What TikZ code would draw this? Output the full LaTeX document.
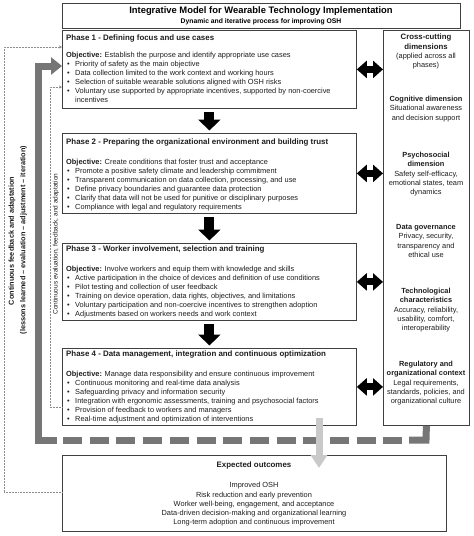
\documentclass[tikz,border=0pt]{standalone}
\usepackage{fontspec}
\setmainfont{Liberation Sans}
\usetikzlibrary{arrows.meta}
\definecolor{txt}{HTML}{1E1E1E}
\definecolor{bord}{HTML}{404040}
\definecolor{loopg}{HTML}{767676}
\definecolor{lightg}{HTML}{C9C9C9}
\definecolor{dotg}{HTML}{8C8C8C}
\newcommand{\bul}{\hspace*{1pt}\makebox[8pt][l]{\textbullet}}
\newcommand{\phhead}[1]{{\fontsize{7.9}{9}\selectfont\bfseries #1}}
\begin{document}
\begin{tikzpicture}[x=1pt,y=-1pt,
  box/.style={draw=bord, line width=0.8pt, fill=white, anchor=north west, inner sep=0pt},
  body/.style={anchor=base west, inner sep=0pt, text=txt, font=\fontsize{7.4}{9}\selectfont},
  side/.style={anchor=base, inner sep=0pt, text=txt, font=\fontsize{7.4}{9.2}\selectfont},
  blk/.style={line width=10pt, -{Triangle[width=22pt,length=11pt]}, black},
  dbl/.style={line width=7pt, {Triangle[width=17pt,length=10pt]}-{Triangle[width=17pt,length=10pt]}, black},
  fb/.style={draw=dotg, line width=0.5pt, densely dotted, -{Stealth[length=3pt,width=3pt]}},
  gl/.style={draw=loopg, line width=7pt, line join=miter},
  sidelabel/.style={rotate=90, inner sep=0pt, text=txt, font=\fontsize{7.3}{9}\selectfont\bfseries},
]
\useasboundingbox (0,0) rectangle (474,536);
\fill[white] (0,0) rectangle (474,536);

% feedback dotted loops
\coordinate (o1) at (4,492);
\coordinate (o2) at (4,47);
\coordinate (i1) at (50,407);
\coordinate (i2) at (50,87);

% title
\node[box, minimum width=398pt, minimum height=25pt] (title) at (62,3) {};
\node[anchor=base, inner sep=0pt, text=black, font=\fontsize{9.4}{11}\selectfont\bfseries] (tt) at (261,13.4) {Integrative Model for Wearable Technology Implementation};
\node[anchor=base, inner sep=0pt, text=black, font=\fontsize{6.8}{8}\selectfont\bfseries] (ts) at (261,23.4) {Dynamic and iterative process for improving OSH};

% phases
\node[box, minimum width=294pt, minimum height=78pt] (p1) at (62,30) {};
\node[box, minimum width=294pt, minimum height=80pt] (p2) at (62,133) {};
\node[box, minimum width=294pt, minimum height=77pt] (p3) at (62,243) {};
\node[box, minimum width=294pt, minimum height=77pt] (p4) at (62,348) {};

% outcomes box
\node[box, minimum width=384pt, minimum height=76pt] (out) at (62,455) {};

\draw[fb] (o1 -| out.west) -- (o1) -- (o2) -- (o2 -| p1.west);
\draw[fb] (i1 -| p4.west) -- (i1) -- (i2) -- (i2 -| p1.west);

\node[body] (t1) at (66,40.8) {\parbox[t]{290pt}{\raggedright
\phhead{Phase 1 - Defining focus and use cases}\\[8pt]
\textbf{Objective:} Establish the purpose and identify appropriate use cases\\
\bul Priority of safety as the main objective\\
\bul Data collection limited to the work context and working hours\\
\bul Selection of suitable wearable solutions aligned with OSH risks\\
\bul Voluntary use supported by appropriate incentives, supported by non-coercive\\
\hspace*{9pt}incentives}};

\node[body] (t2) at (66,144.8) {\parbox[t]{290pt}{\raggedright
\phhead{Phase 2 - Preparing the organizational environment and building trust}\\[11pt]
\textbf{Objective:} Create conditions that foster trust and acceptance\\
\bul Promote a positive safety climate and leadership commitment\\
\bul Transparent communication on data collection, processing, and use\\
\bul Define privacy boundaries and guarantee data protection\\
\bul Clarify that data will not be used for punitive or disciplinary purposes\\
\bul Compliance with legal and regulatory requirements}};

\node[body] (t3) at (66,251.8) {\parbox[t]{290pt}{\raggedright
\phhead{Phase 3 - Worker involvement, selection and training}\\[11pt]
\textbf{Objective:} Involve workers and equip them with knowledge and skills\\
\bul Active participation in the choice of devices and definition of use conditions\\
\bul Pilot testing and collection of user feedback\\
\bul Training on device operation, data rights, objectives, and limitations\\
\bul Voluntary participation and non-coercive incentives to strengthen adoption\\
\bul Adjustments based on workers needs and work context}};

\node[body] (t4) at (66,356.8) {\parbox[t]{290pt}{\raggedright
\phhead{Phase 4 - Data management, integration and continuous optimization}\\[11pt]
\textbf{Objective:} Manage data responsibility and ensure continuous improvement\\
\bul Continuous monitoring and real-time data analysis\\
\bul Safeguarding privacy and information security\\
\bul Integration with ergonomic assessments, training and psychosocial factors\\
\bul Provision of feedback to workers and managers\\
\bul Real-time adjustment and optimization of interventions}};

% cross-cutting box
\node[box, minimum width=86pt, minimum height=395pt] (cc) at (383,30) {};
\node[side] (c1) at (426,39.8) {\parbox[t]{86pt}{\centering
{\fontsize{7.8}{9.2}\selectfont\bfseries Cross-cutting\\ dimensions}\\
(applied across all\\ phases)}};
\node[side] (c2) at (426,101.6) {\parbox[t]{86pt}{\centering
\textbf{Cognitive dimension}\\ Situational awareness\\ and decision support}};
\node[side] (c3) at (426,157.6) {\parbox[t]{86pt}{\centering
\textbf{Psychosocial}\\ \textbf{dimension}\\ Safety self-efficacy,\\ emotional states, team\\ dynamics}};
\node[side] (c4) at (426,229.6) {\parbox[t]{86pt}{\centering
\textbf{Data governance}\\ Privacy, security,\\ transparency and\\ ethical use}};
\node[side] (c5) at (426,293.6) {\parbox[t]{86pt}{\centering
\textbf{Technological}\\ \textbf{characteristics}\\ Accuracy, reliability,\\ usability, comfort,\\ interoperability}};
\node[side] (c6) at (426,366.6) {\parbox[t]{86pt}{\centering
\textbf{Regulatory and}\\ \textbf{organizational context}\\ Legal requirements,\\ standards, policies, and\\ organizational culture}};

% outcomes text
\node[side] (ot) at (254,467.8) {\parbox[t]{380pt}{\centering
{\fontsize{7.9}{9.2}\selectfont\bfseries Expected outcomes}\\[10.8pt]
Improved OSH\\
Risk reduction and early prevention\\
Worker well-being, engagement, and acceptance\\
Data-driven decision-making and organizational learning\\
Long-term adoption and continuous improvement}};

% black arrows between phases
\draw[blk, shorten <=3pt, shorten >=2.5pt] (p1.south) -- (p2.north);
\draw[blk, shorten <=3pt, shorten >=2.5pt] (p2.south) -- (p3.north);
\draw[blk, shorten <=3pt, shorten >=2.5pt] (p3.south) -- (p4.north);

% double arrows
\draw[dbl] (p1.east) -- (cc.west |- p1.east);
\draw[dbl] (p2.east) -- (cc.west |- p2.east);
\draw[dbl] (p3.east) -- (cc.west |- p3.east);
\draw[dbl] (p4.east) -- (cc.west |- p4.east);

% thick gray feedback loop
\coordinate (lt) at (38,66);
\draw[gl] (cc.south) -- (426,440) -- (409,440);
\draw[gl, dash pattern=on 19pt off 7.7pt] (63,440) -- (404,440);
\draw[gl, -{Triangle[width=17pt,length=11pt]}] (57,440) -- (38,440) -- (lt) -- (lt -| p1.west);

% light gray arrow to outcomes
\coordinate (la) at (319,418);
\coordinate (lb) at (319,468);
\draw[draw=lightg, line width=7pt, -{Triangle[width=16pt,length=13pt]}] (la) -- (lb);

% rotated labels
\node[sidelabel] (lt1) at (12,241) {Continuous feedback and adaptation};
\node[sidelabel] (lt2) at (23.5,240) {(lessons learned – evaluation – adjustment – iteration)};
\node[rotate=90, inner sep=0pt, text=txt, font=\fontsize{6.5}{8}\selectfont] (lt3) at (56,244) {Continuous evaluation, feedback, and adaptation};
\end{tikzpicture}
\end{document}
